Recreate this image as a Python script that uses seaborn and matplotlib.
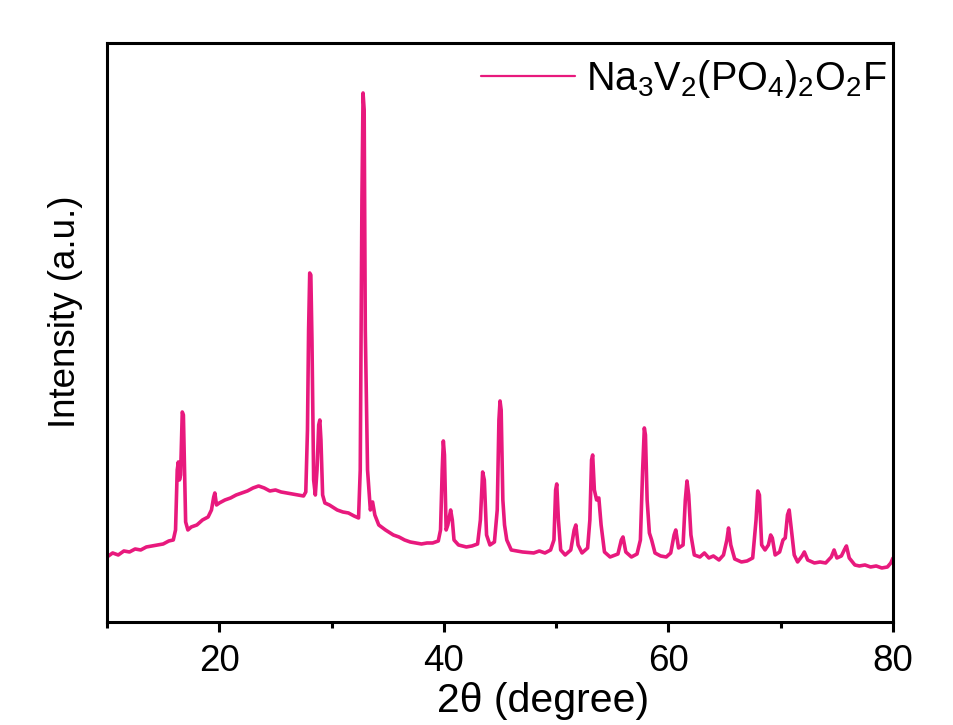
import matplotlib
matplotlib.use("Agg")
import matplotlib.pyplot as plt
from matplotlib.ticker import AutoMinorLocator, FixedLocator
from matplotlib.lines import Line2D
import seaborn as sns
import pandas as pd

two_theta = [
    10.0, 10.5, 11.0, 11.5, 12.0, 12.5, 13.0, 13.5, 14.0, 14.5, 15.0, 15.5, 15.9,
    16.1, 16.25, 16.35, 16.45, 16.55, 16.7, 16.8, 16.9, 17.0, 17.2, 17.5, 18.0,
    18.5, 19.0, 19.3, 19.5, 19.6, 19.75, 20.0, 20.5, 21.0, 21.5, 22.0, 22.5, 23.0,
    23.5, 24.0, 24.5, 25.0, 25.5, 26.0, 26.5, 27.0, 27.5, 27.7, 27.85, 27.95,
    28.05, 28.15, 28.25, 28.4, 28.55, 28.7, 28.85, 28.95, 29.05, 29.2, 29.4, 29.8,
    30.5, 31.0, 31.5, 32.0, 32.4, 32.55, 32.7, 32.8, 32.9, 33.0, 33.1, 33.2, 33.45,
    33.65, 33.85, 34.2, 34.8, 35.5, 36.0, 36.5, 37.0, 37.5, 38.0, 38.5, 39.0, 39.5,
    39.7, 39.85, 39.95, 40.05, 40.2, 40.35, 40.6, 40.75, 40.9, 41.3, 42.0, 42.5,
    43.0, 43.25, 43.45, 43.6, 43.8, 44.1, 44.5, 44.75, 44.9, 45.0, 45.1, 45.25,
    45.4, 45.6, 46.0, 47.0, 48.0, 48.5, 49.0, 49.5, 49.8, 49.95, 50.05, 50.2, 50.4,
    50.8, 51.3, 51.6, 51.75, 51.95, 52.3, 52.8, 53.0, 53.15, 53.25, 53.4, 53.6,
    53.8, 54.0, 54.3, 54.8, 55.5, 55.8, 55.95, 56.2, 56.7, 57.2, 57.5, 57.7, 57.85,
    57.95, 58.1, 58.3, 58.5, 58.8, 59.3, 59.8, 60.2, 60.5, 60.65, 60.9, 61.3, 61.5,
    61.65, 61.8, 62.0, 62.3, 62.8, 63.2, 63.6, 64.0, 64.5, 64.9, 65.2, 65.35, 65.55,
    65.9, 66.5, 67.0, 67.5, 67.8, 67.95, 68.1, 68.3, 68.6, 68.9, 69.1, 69.25, 69.5,
    69.9, 70.2, 70.4, 70.6, 70.75, 70.95, 71.2, 71.5, 71.9, 72.1, 72.4, 73.0, 73.5,
    74.0, 74.5, 74.75, 75.0, 75.4, 75.7, 75.85, 76.1, 76.6, 77.0, 77.5, 78.0, 78.5,
    79.0, 79.5, 79.8, 80.0,
]

intensity = [
    65, 69, 67, 71, 70, 73, 72, 75, 76, 77, 78, 81, 82,
    92, 152, 160, 142, 147, 210, 207, 152, 100, 92, 95, 97,
    102, 105, 112, 125, 129, 117, 119, 122, 124, 127, 129, 131, 134,
    136, 134, 131, 132, 130, 129, 128, 127, 126, 130, 192, 292,
    349, 347, 282, 142, 127, 152, 197, 202, 182, 127, 119, 117,
    112, 110, 109, 106, 104, 152, 422, 529, 512, 292, 225, 152, 112,
    120, 107, 97, 92, 87, 85, 82, 80, 79, 78, 79, 79, 81,
    92, 152, 181, 167, 92, 97, 112, 102, 82, 77, 75, 76,
    78, 102, 150, 142, 87, 77, 80, 112, 202, 221, 212, 122,
    97, 82, 72, 70, 69, 71, 69, 72, 82, 132, 138, 102, 72,
    67, 72, 92, 97, 77, 69, 74, 102, 162, 167, 132, 122,
    124, 97, 70, 65, 68, 82, 85, 70, 65, 68, 82, 152, 194,
    187, 122, 89, 82, 69, 66, 65, 69, 87, 92, 74, 77, 122,
    141, 127, 87, 67, 65, 69, 64, 66, 62, 67, 82, 94, 77,
    63, 60, 61, 64, 102, 131, 127, 77, 72, 77, 87, 84, 67,
    70, 82, 84, 107, 112, 92, 67, 60, 66, 70, 62, 59, 60,
    59, 65, 72, 64, 66, 73, 76, 64, 57, 56, 57, 55, 56,
    54, 55, 59, 64,
]

series_label = r"Na$_3$V$_2$(PO$_4$)$_2$O$_2$F"
x_ticks = [20, 40, 60, 80]
line_color = "#E8197D"

df = pd.DataFrame({"two_theta": two_theta, "intensity": intensity})

sns.set_style("ticks")
plt.rcParams["font.family"] = ["Liberation Sans", "DejaVu Sans"]
plt.rcParams["mathtext.fontset"] = "custom"
plt.rcParams["mathtext.rm"] = "Liberation Sans"
plt.rcParams["mathtext.it"] = "Liberation Sans"
plt.rcParams["mathtext.default"] = "regular"
plt.rcParams["text.color"] = "black"
plt.rcParams["axes.labelcolor"] = "black"
plt.rcParams["xtick.color"] = "black"

fig = plt.figure(figsize=(9.54, 7.25), dpi=100)
ax = fig.add_axes([0.1122, 0.1421, 0.8239, 0.7986])

sns.lineplot(data=df, x="two_theta", y="intensity", ax=ax, color=line_color,
             linewidth=2.6, estimator=None, sort=False, legend=False)

ax.set_xlim(10, 80)
ax.set_ylim(0, 579)
ax.xaxis.set_major_locator(FixedLocator(x_ticks))
ax.xaxis.set_minor_locator(AutoMinorLocator(2))
ax.set_yticks([])

for sp in ax.spines.values():
    sp.set_linewidth(2.2)
    sp.set_color("black")
    sp.set_visible(True)

ax.tick_params(axis="x", which="major", direction="out", length=7.5, width=2.2,
               labelsize=26.5, pad=8, colors="black")
ax.tick_params(axis="x", which="minor", direction="out", length=4.5, width=2.2)

ax.set_xlabel("2θ (degree)", fontsize=29.5)
ax.set_ylabel("Intensity (a.u.)", fontsize=26.5)
ax.xaxis.set_label_coords(0.555, -0.103)
ax.yaxis.set_label_coords(-0.031, 0.535)

handle = Line2D([], [], color=line_color, linewidth=1.6)
ax.legend([handle], [series_label], loc="upper right", frameon=False,
          fontsize=28.5, handlelength=2.37, handletextpad=0.28,
          borderpad=0.15, bbox_to_anchor=(1.0, 0.985), borderaxespad=0.0)

fig.savefig("out.png", dpi=100, facecolor="white")
